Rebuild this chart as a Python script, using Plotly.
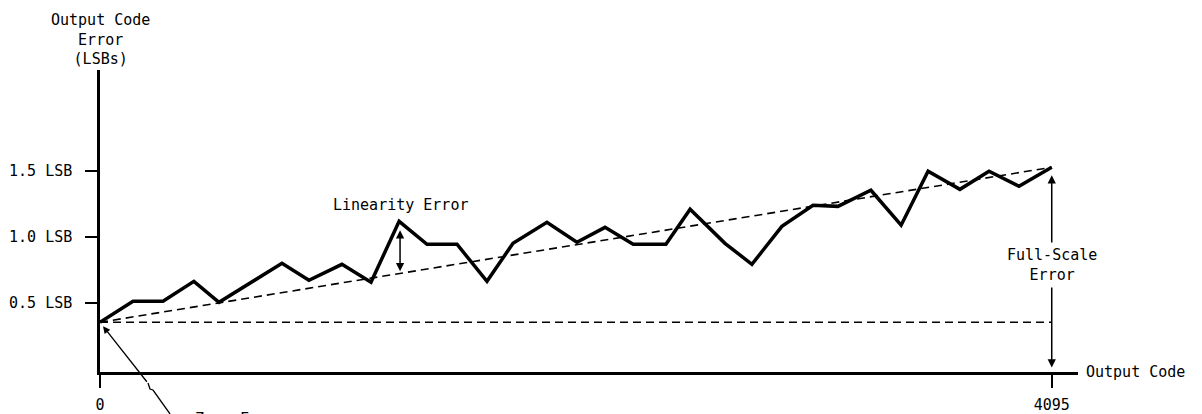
import plotly.graph_objects as go

codes = [0, 142, 271, 404, 512, 783, 899, 1041, 1166, 1287, 1407, 1536, 1665, 1777,
         1923, 2052, 2173, 2294, 2435, 2539, 2689, 2805, 2934, 3068, 3175, 3317,
         3447, 3563, 3700, 3825, 3954, 4095]
error_lsb = [0.354, 0.513, 0.513, 0.664, 0.505, 0.801, 0.672, 0.793, 0.657, 1.119,
             0.945, 0.945, 0.664, 0.952, 1.111, 0.960, 1.073, 0.945, 0.945, 1.210,
             0.952, 0.793, 1.081, 1.240, 1.232, 1.354, 1.089, 1.498, 1.361, 1.498,
             1.384, 1.528]

zero_error = 0.354
full_scale = 1.528
ideal_x = [0, 4095]
ideal_y = [zero_error, full_scale]
offset_y = [zero_error, zero_error]

ytick_vals = [0.5, 1.0, 1.5]
ytick_text = ["0.5 LSB", "1.0 LSB", "1.5 LSB"]
xtick_vals = [0, 4095]
xtick_text = ["0", "4095"]

FONT = dict(family="DejaVu Sans Mono", size=15, color="black")

fig = go.Figure()

# linea ideal (ganancia) y linea de offset
fig.add_trace(go.Scatter(x=ideal_x, y=ideal_y, mode="lines",
                         line=dict(color="black", width=1.6, dash="8px,5px")))
fig.add_trace(go.Scatter(x=ideal_x, y=offset_y, mode="lines",
                         line=dict(color="black", width=1.6, dash="8px,5px")))
# curva real
fig.add_trace(go.Scatter(x=codes, y=error_lsb, mode="lines",
                         line=dict(color="black", width=3.5)))

# flecha de error de linealidad
x_lin = 1291
y_ideal_lin = zero_error + (full_scale - zero_error) * x_lin / 4095
fig.add_annotation(x=x_lin, y=1.051, ax=x_lin, ay=y_ideal_lin + 0.005,
                   axref="x", ayref="y", xref="x", yref="y", text="",
                   showarrow=True, arrowhead=2, arrowside="end+start",
                   arrowsize=1.1, arrowwidth=1.5, arrowcolor="black")
fig.add_annotation(x=x_lin, y=1.242, text="Linearity Error", showarrow=False,
                   font=FONT)

# flecha de error de fondo de escala
fig.add_annotation(x=4095, y=full_scale - 0.06, ax=4095, ay=0.0,
                   axref="x", ayref="y", xref="x", yref="y", text="",
                   showarrow=True, arrowhead=2, arrowside="end+start",
                   arrowsize=1.1, arrowwidth=1.5, arrowcolor="black")
fig.add_annotation(x=4095, y=0.79, text="Full-Scale<br>Error", showarrow=False,
                   font=FONT, bgcolor="white", borderpad=3)

# error de cero (leyenda cortada abajo)
fig.add_annotation(x=13, y=zero_error - 0.03, ax=45, ay=57, text="",
                   showarrow=True, arrowhead=2, arrowsize=1.1, arrowwidth=1.3,
                   arrowcolor="black")
fig.add_shape(type="path", xref="paper", yref="paper",
              path="M 0.0491 -0.0364 L 0.0511 -0.0563 L 0.0542 -0.0596 L 0.0716 -0.139",
              line=dict(color="black", width=1.3))
fig.add_annotation(xref="paper", yref="paper", x=0.095, y=-0.119, text="Zero Error",
                   showarrow=False, xanchor="left", yanchor="top", font=FONT)

# titulos de ejes
fig.add_annotation(xref="paper", yref="paper", x=0, y=1, yshift=0,
                   text="Output Code<br>Error<br>(LSBs)", showarrow=False,
                   xanchor="center", yanchor="bottom", font=FONT)
fig.add_annotation(xref="paper", yref="paper", x=1, y=0, xshift=6,
                   text="Output Code", showarrow=False,
                   xanchor="left", yanchor="middle", font=FONT)

# la pagina tiene 8px de margen en body: se compensa en tamano y margenes
fig.update_layout(
    width=1194, height=406,
    margin=dict(l=92, r=124, t=62, b=42, autoexpand=False),
    paper_bgcolor="white", plot_bgcolor="white",
    showlegend=False,
    font=FONT,
    xaxis=dict(range=[0, 4208], showgrid=False, zeroline=False, automargin=False,
               showline=True, linecolor="black", linewidth=2.5,
               tickmode="array", tickvals=xtick_vals, ticktext=xtick_text,
               ticks="outside", ticklen=13, tickwidth=2, tickcolor="black",
               ticklabelstandoff=4, tickfont=FONT),
    yaxis=dict(range=[-0.0227, 2.265], showgrid=False, zeroline=False, automargin=False,
               showline=True, linecolor="black", linewidth=2.5,
               tickmode="array", tickvals=ytick_vals, ticktext=ytick_text,
               ticks="outside", ticklen=12, tickwidth=2, tickcolor="black",
               ticklabelstandoff=10, tickfont=FONT),
)

fig.write_html("out.html")
